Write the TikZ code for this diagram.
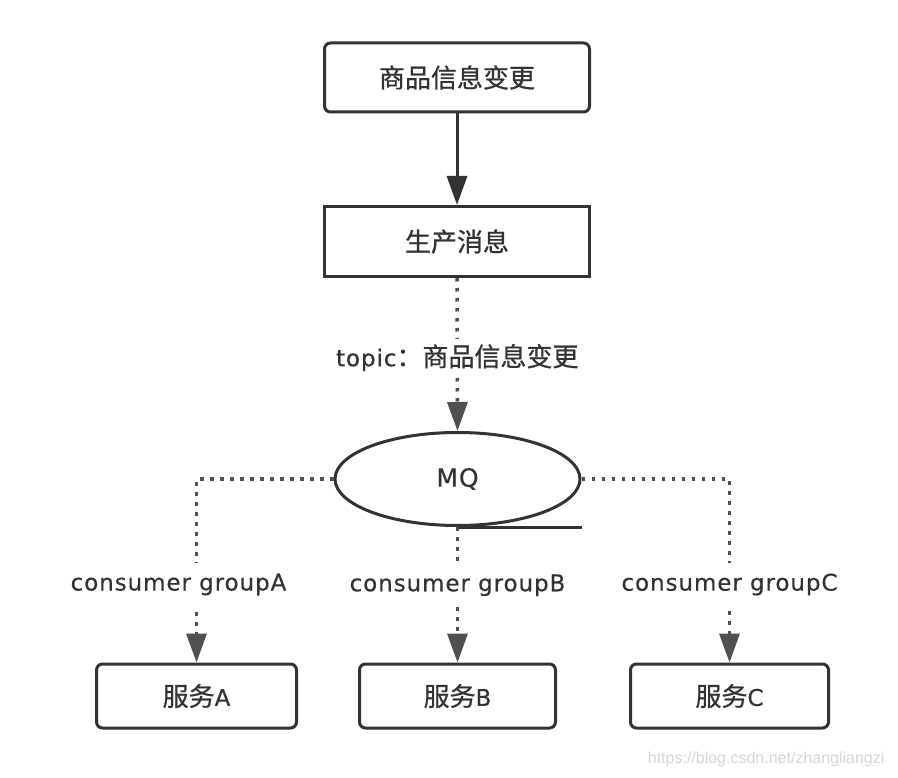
\documentclass[tikz,border=0pt]{standalone}
\usepackage{fontspec}
\setmainfont{DejaVu Sans}[LetterSpace=4,FakeBold=0.4]
\newfontfamily\cjkfont{Noto Sans CJK SC}[FakeBold=0.8]
\newfontfamily\wmfont{Liberation Sans}
\usetikzlibrary{shapes.geometric,arrows.meta}
\definecolor{ink}{HTML}{333333}
\definecolor{dotc}{HTML}{505050}
\definecolor{wmark}{HTML}{D6D6D6}
\newcommand{\zhtxt}[1]{{\cjkfont\fontsize{26}{30}\selectfont #1}}
\begin{document}
\begin{tikzpicture}[x=1pt,y=-1pt,
  txt/.style={text=ink, font=\fontsize{23}{28}\selectfont},
  boxsq/.style={txt, draw=ink, line width=3pt, rectangle, inner sep=0pt},
  boxrd/.style={boxsq, rounded corners=6pt},
  mqshape/.style={txt, draw=ink, line width=3pt, ellipse, inner sep=0pt, minimum width=245pt, minimum height=93pt, font=\fontsize{25}{30}\selectfont},
  tip/.style={-{Triangle[length=29pt,width=20pt]}},
  solidarrow/.style={tip, draw=ink, line width=3pt},
  dotarrow/.style={tip, draw=dotc, line width=3.5pt, dash pattern=on 3.5pt off 6.5pt},
  lbl/.style={txt, fill=white, inner xsep=2pt, inner ysep=11pt},
  toplbl/.style={lbl, inner ysep=5pt},
  tailline/.style={draw=ink, line width=3pt}
]
\fill[white] (0,0) rectangle (898,778);
\useasboundingbox (0,0) rectangle (898,778);

\node[boxrd, minimum width=265pt, minimum height=69pt] (top) at (457,77.5) {\zhtxt{商品信息变更}};
\node[boxsq, minimum width=265pt, minimum height=70pt] (prod) at (457,241.5) {\zhtxt{生产消息}};
\node[mqshape] (mq) at (457.5,479) {MQ};
\node[boxrd, minimum width=200pt, minimum height=64pt] (svcA) at (196.5,696) {\zhtxt{服务}A};
\node[boxrd, minimum width=196pt, minimum height=64pt] (svcB) at (457.5,696) {\zhtxt{服务}B};
\node[boxrd, minimum width=198pt, minimum height=64pt] (svcC) at (729.5,696) {\zhtxt{服务}C};

\coordinate (cA) at (svcA.north |- mq.west);
\coordinate (cC) at (svcC.north |- mq.east);
\coordinate (mqtail) at (mq.south -| mq.east);

\draw[solidarrow] (top.south) -- (prod.north);
\draw[dotarrow] (prod.south) -- node[toplbl, pos=0.52] (ltopic) {topic\zhtxt{：商品信息变更}} (mq.north);
\draw[dotarrow] (mq.west) -- (cA) -- node[lbl, pos=0.575, xshift=-18pt] (lA) {consumer groupA} (svcA.north);
\draw[dotarrow] (mq.south) -- node[lbl, pos=0.43] (lB) {consumer groupB} (svcB.north);
\draw[dotarrow] (mq.east) -- (cC) -- node[lbl, pos=0.575] (lC) {consumer groupC} (svcC.north);
\draw[tailline] (mq.south) -- (mqtail);

\node[anchor=base east, text=wmark, font=\wmfont\fontsize{16}{18}\selectfont] (wm) at (888,763) {https://blog.csdn.net/zhangliangzi};
\end{tikzpicture}
\end{document}
